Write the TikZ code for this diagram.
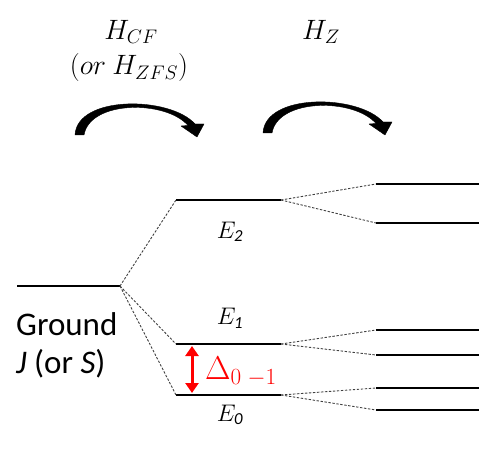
\documentclass[tikz,border=0pt]{standalone}
\usepackage{fix-cm}
\usepackage{fontspec}
\setmainfont{Carlito}
\usetikzlibrary{arrows.meta}
\begin{document}
\begin{tikzpicture}[x=1pt,y=-1pt,
  level/.style={line width=2.3pt},
  lshadow/.style={line width=2.6pt,black!18,shift={(1pt,-3pt)}},
  split/.style={line width=0.9pt,dash pattern=on 2.4pt off 1.6pt,black!75},
  bigarrow/.style={fill=black,draw=black,line width=0.4pt,line join=round},
  lab/.style={inner sep=0pt,font=\fontsize{24}{26}\selectfont},
  ham/.style={inner sep=0pt,font=\fontsize{28}{30}\selectfont},
  gtext/.style={inner sep=0pt,anchor=west,font=\fontsize{33}{35}\selectfont}]
\useasboundingbox (0,0) rectangle (493,457);
% coordinates
\coordinate (gL) at (17,286);  \coordinate (gR) at (120,286);
\coordinate (e2L) at (176,200); \coordinate (e2R) at (281,200);
\coordinate (e1L) at (176,344); \coordinate (e1R) at (281,344);
\coordinate (e0L) at (176,395); \coordinate (e0R) at (281,395);
\coordinate (z1L) at (376,184); \coordinate (z1R) at (479,184);
\coordinate (z2L) at (376,223); \coordinate (z2R) at (479,223);
\coordinate (z3L) at (376,330); \coordinate (z3R) at (479,330);
\coordinate (z4L) at (376,355); \coordinate (z4R) at (479,355);
\coordinate (z5L) at (376,388); \coordinate (z5R) at (479,388);
\coordinate (z6L) at (376,410); \coordinate (z6R) at (479,410);
% shadows
\foreach \a/\b in {gL/gR,e2L/e2R,e1L/e1R,e0L/e0R,z1L/z1R,z2L/z2R,z3L/z3R,z4L/z4R,z5L/z5R,z6L/z6R}
  \draw[lshadow] (\a) -- (\b);
% levels
\foreach \a/\b in {gL/gR,e2L/e2R,e1L/e1R,e0L/e0R,z1L/z1R,z2L/z2R,z3L/z3R,z4L/z4R,z5L/z5R,z6L/z6R}
  \draw[level] (\a) -- (\b);
% splitting dashes
\draw[split] (gR) -- (e2L);
\draw[split] (gR) -- (e1L);
\draw[split] (gR) -- (e0L);
\draw[split] (e2R) -- (z1L); \draw[split] (e2R) -- (z2L);
\draw[split] (e1R) -- (z3L); \draw[split] (e1R) -- (z4L);
\draw[split] (e0R) -- (z5L); \draw[split] (e0R) -- (z6L);
% labels
\node[gtext] (ground) at (16,324) {Ground};
\node[gtext] (jors) at (16,364) {\textit{J} (or \textit{S})};
\node[lab] (E2) at (230,232) {$E_{\mathit{2}}$};
\node[lab] (E1) at (230,318) {$E_{\mathit{1}}$};
\node[lab] (E0) at (230,415) {$E_{\mathit{0}}$};
% gap arrow
\coordinate (dTop) at (192,346);
\coordinate (dBot) at (192,393);
\draw[red,line width=3pt,{Triangle[width=13pt,length=10pt]}-{Triangle[width=13pt,length=10pt]}] (dTop) -- (dBot);
\node[inner sep=0pt,red,anchor=west,font=\fontsize{33}{35}\selectfont] (delta) at (205,372) {$\Delta_{0\;-1}$};
% hamiltonians
\node[ham] (hcf) at (131,32) {$H_{CF}$};
\node[ham] (hzfs) at (129,68) {$(or\ H_{ZFS})$};
\node[ham] (hz) at (321,32) {$H_{Z}$};
% curved (tapered) arrows
\foreach \dx/\dy in {0/0,188/-2}{
\begin{scope}[shift={(\dx,\dy)}]
\filldraw[bigarrow] (75,135) .. controls (77,95) and (170,96) .. (195,124)
  -- (204,124) -- (197,137) -- (181,126) -- (188,125.5)
  .. controls (166,100) and (90,100) .. (84,135) -- cycle;
\end{scope}}
\end{tikzpicture}
\end{document}
